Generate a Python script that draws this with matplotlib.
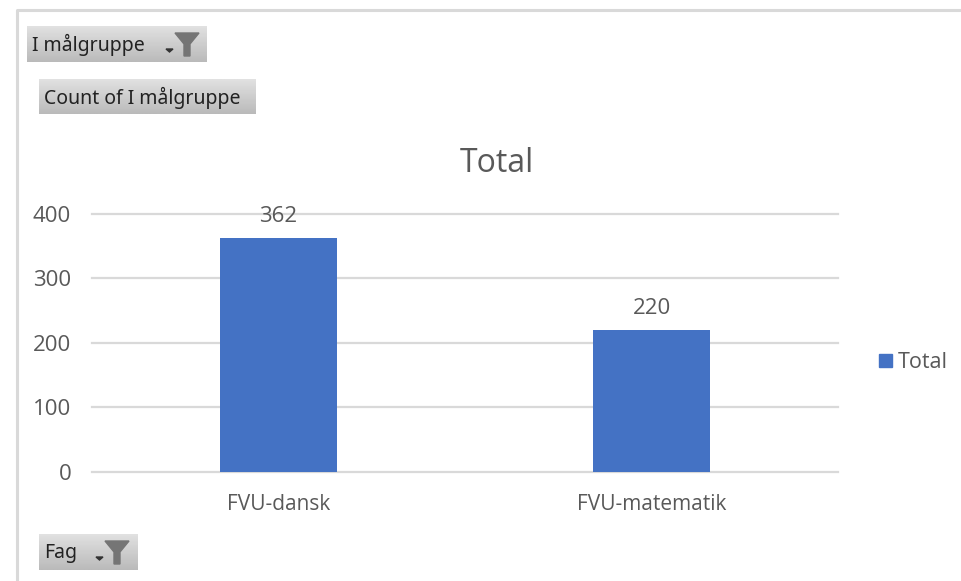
import matplotlib
matplotlib.use("Agg")
import matplotlib.pyplot as plt
import numpy as np
from matplotlib.patches import Polygon

categories = ["FVU-dansk", "FVU-matematik"]
values = [362, 220]
yticks = [0, 100, 200, 300, 400]
series_name = "Total"

W, H = 962, 581
GREY = "#595959"
BLUE = "#4472C4"
plt.rcParams['font.family'] = ['Open Sans', 'DejaVu Sans']

fig = plt.figure(figsize=(W / 100, H / 100), dpi=100)

# plot area, pixel positions from the picture
ax = fig.add_axes([92 / W, 1 - 471.5 / H, (838 - 92) / W, (471.5 - 214) / H])
bars = ax.bar(range(len(categories)), values, width=0.314, color=BLUE, zorder=3)
ax.set_xlim(-0.5, 1.5)
ax.set_ylim(0, 400)
ax.set_yticks(yticks)
ax.set_xticks(range(len(categories)))
ax.set_xticklabels(categories, fontsize=15, color=GREY)
ax.tick_params(axis='y', labelsize=16, labelcolor=GREY, length=0, pad=15)
ax.tick_params(axis='x', length=0, pad=16)
ax.grid(axis='y', color="#D9D9D9", lw=1.6, zorder=0)
for ln in ax.get_ygridlines():
    ln.set_clip_on(False)
ax.set_axisbelow(True)
for s in ax.spines.values():
    s.set_visible(False)
ax.bar_label(bars, fontsize=16, color=GREY, padding=8)

# overlay in pixel coordinates for the frame, buttons and legend
ov = fig.add_axes([0, 0, 1, 1], zorder=-1)
ov.set_xlim(0, W)
ov.set_ylim(H, 0)
ov.axis('off')
ov.plot([17, 17, 962], [581, 9.5, 9.5], color="#D9D9D9", lw=2.2)

top = fig.add_axes([0, 0, 1, 1], zorder=5)
top.set_xlim(0, W)
top.set_ylim(H, 0)
top.axis('off')
top.patch.set_alpha(0)

grad = np.linspace(0.88, 0.73, 32).reshape(-1, 1)


def button(x0, y0, x1, y1, label, tx, funnel=None):
    top.imshow(grad, extent=[x0, x1, y1, y0], cmap='gray', vmin=0, vmax=1, aspect='auto', zorder=1)
    top.text(tx, (y0 + y1) / 2 + 1, label, fontsize=14, color="#222222", family=['Noto Sans', 'DejaVu Sans'],
             va='center', ha='left', zorder=2)
    if funnel is not None:
        fx, fy = funnel
        top.add_patch(Polygon([(fx, fy), (fx + 24, fy), (fx + 15, fy + 11), (fx + 15, fy + 23),
                               (fx + 9, fy + 23), (fx + 9, fy + 11)], color="#757575", zorder=2))
        top.add_patch(Polygon([(fx - 9, fy + 16), (fx - 2, fy + 16), (fx - 5.5, fy + 19)], color="#333333", zorder=2))


button(27, 26, 207, 62, "I målgruppe", 32, funnel=(175, 33))
button(39, 79, 256, 114, "Count of I målgruppe", 44)
button(39, 534, 138, 570, "Fag", 44, funnel=(105, 541))
top.set_xlim(0, W)
top.set_ylim(H, 0)

# legend
top.add_patch(plt.Rectangle((879, 354), 13, 13, color=BLUE))
top.text(898, 362, series_name, fontsize=15.5, color=GREY, va='center', ha='left')

fig.text(497 / W, 1 - 163 / H, "Total", fontsize=23, color=GREY, ha='center', va='center')

fig.savefig("out.png", dpi=100)
